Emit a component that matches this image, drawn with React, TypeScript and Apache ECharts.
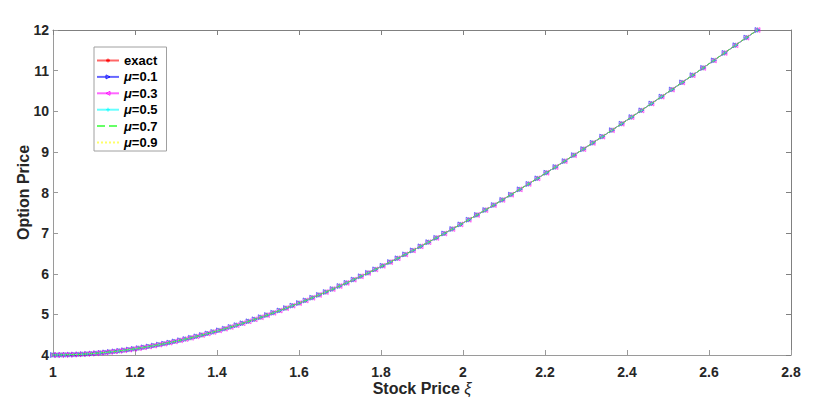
import React, { useEffect, useRef } from "react";
import * as echarts from "echarts";

// Stock price ξ at each plotted marker
const stockPrice = [
  1.0000, 1.0101, 1.0202, 1.0305, 1.0408, 1.0513, 1.0618, 1.0725, 1.0833, 1.0942,
  1.1052, 1.1163, 1.1275, 1.1388, 1.1503, 1.1618, 1.1735, 1.1853, 1.1972, 1.2092,
  1.2214, 1.2337, 1.2461, 1.2586, 1.2712, 1.2840, 1.2969, 1.3100, 1.3231, 1.3364,
  1.3499, 1.3634, 1.3771, 1.3910, 1.4049, 1.4191, 1.4333, 1.4477, 1.4623, 1.4770,
  1.4918, 1.5068, 1.5220, 1.5373, 1.5527, 1.5683, 1.5841, 1.6000, 1.6161, 1.6323,
  1.6487, 1.6653, 1.6820, 1.6989, 1.7160, 1.7333, 1.7507, 1.7683, 1.7860, 1.8040,
  1.8221, 1.8404, 1.8589, 1.8776, 1.8965, 1.9155, 1.9348, 1.9542, 1.9739, 1.9937,
  2.0138, 2.0340, 2.0544, 2.0751, 2.0959, 2.1170, 2.1383, 2.1598, 2.1815, 2.2034,
  2.2255, 2.2479, 2.2705, 2.2933, 2.3164, 2.3396, 2.3632, 2.3869, 2.4109, 2.4351,
  2.4596, 2.4843, 2.5093, 2.5345, 2.5600, 2.5857, 2.6117, 2.6379, 2.6645, 2.6912,
  2.7183,
];

// Option price (all six series coincide in the picture)
const optionPrice = [
  4.000, 4.000, 4.002, 4.004, 4.007, 4.010, 4.015, 4.021, 4.027, 4.035,
  4.043, 4.053, 4.063, 4.075, 4.088, 4.102, 4.117, 4.133, 4.150, 4.168,
  4.188, 4.209, 4.231, 4.255, 4.279, 4.305, 4.333, 4.362, 4.392, 4.424,
  4.458, 4.492, 4.529, 4.567, 4.606, 4.647, 4.690, 4.734, 4.781, 4.829,
  4.878, 4.930, 4.983, 5.039, 5.095, 5.154, 5.215, 5.278, 5.343, 5.410,
  5.479, 5.550, 5.623, 5.698, 5.775, 5.855, 5.937, 6.021, 6.107, 6.196,
  6.287, 6.380, 6.476, 6.574, 6.674, 6.777, 6.883, 6.991, 7.101, 7.214,
  7.330, 7.448, 7.568, 7.691, 7.817, 7.946, 8.077, 8.211, 8.347, 8.486,
  8.627, 8.772, 8.919, 9.068, 9.221, 9.375, 9.533, 9.693, 9.856, 10.021,
  10.190, 10.360, 10.533, 10.709, 10.887, 11.067, 11.251, 11.435, 11.624, 11.813,
  12.000,
];

const seriesNames = ["exact", "μ=0.1", "μ=0.3", "μ=0.5", "μ=0.7", "μ=0.9"];
const seriesColors = ["#ff0000", "#0000ff", "#ff00ff", "#00ffff", "#00ff00", "#ffff00"];

const xTicks = { min: 1, max: 2.8, interval: 0.2 };
const yTicks = { min: 4, max: 12, interval: 1 };

const FONT = "Liberation Sans, Arial, Helvetica, sans-serif";
const AXIS_COLOR = "#9a9a9a";

const ASTERISK = "path://M0,5L10,5M5,0L5,10M1.5,1.5L8.5,8.5M8.5,1.5L1.5,8.5";
const PLUS = "path://M0,5L10,5M5,0L5,10";

export default function App() {
  const ref = useRef<HTMLDivElement>(null);

  useEffect(() => {
    if (!ref.current) return;
    const chart = echarts.init(ref.current, null, { renderer: "svg" });

    const data = stockPrice.map((x, i) => [x, optionPrice[i]]);

    const markerCfg: any[] = [
      { symbol: ASTERISK, symbolSize: 5, symbolRotate: 0, lineType: "solid" },
      { symbol: "triangle", symbolSize: 5, symbolRotate: -90, lineType: "solid" },
      { symbol: "triangle", symbolSize: 5, symbolRotate: 90, lineType: "solid" },
      { symbol: PLUS, symbolSize: 5, symbolRotate: 0, lineType: "solid" },
      { symbol: "none", symbolSize: 0, symbolRotate: 0, lineType: "dashed" },
      { symbol: "none", symbolSize: 0, symbolRotate: 0, lineType: "dotted" },
    ];

    const series = seriesNames.map((name, i) => ({
      name,
      type: "line",
      data,
      xAxisIndex: 0,
      yAxisIndex: 0,
      symbol: markerCfg[i].symbol,
      symbolSize: markerCfg[i].symbolSize,
      symbolRotate: markerCfg[i].symbolRotate,
      showSymbol: markerCfg[i].symbol !== "none",
      lineStyle: {
        color: seriesColors[i],
        width: 1,
        type: markerCfg[i].lineType,
        opacity: 0.6,
      },
      itemStyle: {
        color: "rgba(0,0,0,0)",
        borderColor: seriesColors[i],
        borderWidth: 0.7,
        opacity: 0.75,
      },
      emphasis: { disabled: true },
      z: 2 + i,
    }));

    const legendData = seriesNames.map((name, i) =>
      markerCfg[i].symbol === "none"
        ? { name, itemStyle: { opacity: 0 } }
        : {
            name,
            itemStyle: {
              color: i === 0 ? seriesColors[i] : "rgba(0,0,0,0)",
              borderColor: seriesColors[i],
              borderWidth: 1,
              opacity: 0.8,
            },
          }
    );

    const tickLabel = {
      color: "#262626",
      fontFamily: FONT,
      fontSize: 14,
      fontWeight: "bold" as const,
    };

    const option: any = {
      animation: false,
      backgroundColor: "#ffffff",
      grid: { left: 53, right: 39, top: 30, bottom: 50, containLabel: false },
      xAxis: [
        {
          type: "value",
          position: "bottom",
          min: xTicks.min,
          max: xTicks.max,
          interval: xTicks.interval,
          name: "{b|Stock Price }{i|ξ}",
          nameLocation: "middle",
          nameGap: 25,
          nameMoveOverlap: false,
          nameTextStyle: {
            rich: {
              b: { fontFamily: FONT, fontSize: 16, fontWeight: "bold", color: "#262626" },
              i: { fontFamily: FONT, fontSize: 16, fontStyle: "italic", color: "#262626" },
            },
          },
          axisLine: { show: true, lineStyle: { color: AXIS_COLOR, width: 1 } },
          axisTick: { show: true, inside: true, length: 5, lineStyle: { color: AXIS_COLOR } },
          axisLabel: { ...tickLabel, margin: 10 },
          splitLine: { show: false },
        },
        {
          type: "value",
          position: "top",
          min: xTicks.min,
          max: xTicks.max,
          interval: xTicks.interval,
          axisLine: { show: true, lineStyle: { color: "#808080", width: 1 } },
          axisTick: { show: true, inside: true, length: 5, lineStyle: { color: "#808080" } },
          axisLabel: { show: false },
          splitLine: { show: false },
        },
      ],
      yAxis: [
        {
          type: "value",
          position: "left",
          min: yTicks.min,
          max: yTicks.max,
          interval: yTicks.interval,
          name: "Option Price",
          nameLocation: "middle",
          nameGap: 22,
          nameMoveOverlap: false,
          nameTextStyle: {
            fontFamily: FONT,
            fontSize: 16,
            fontWeight: "bold",
            color: "#262626",
          },
          axisLine: { show: true, lineStyle: { color: AXIS_COLOR, width: 1 } },
          axisTick: { show: true, inside: true, length: 5, lineStyle: { color: AXIS_COLOR } },
          axisLabel: { ...tickLabel, margin: 4 },
          splitLine: { show: false },
        },
        {
          type: "value",
          position: "right",
          min: yTicks.min,
          max: yTicks.max,
          interval: yTicks.interval,
          axisLine: { show: true, lineStyle: { color: "#808080", width: 1 } },
          axisTick: { show: true, inside: true, length: 5, lineStyle: { color: "#808080" } },
          axisLabel: { show: false },
          splitLine: { show: false },
        },
      ],
      legend: {
        data: legendData,
        orient: "vertical",
        left: 94,
        top: 47,
        itemWidth: 22,
        itemHeight: 5,
        itemGap: 3.4,
        padding: [7, 9, 2, 2],
        borderColor: "#a0a0a0",
        borderWidth: 1,
        backgroundColor: "#ffffff",
        selectedMode: false,
        formatter: (name: string) =>
          name === "exact" ? "{b|exact}" : `{i|μ}{b|${name.slice(1)}}`,
        textStyle: {
          rich: {
            b: { fontFamily: FONT, fontSize: 13, fontWeight: "bold", color: "#000", lineHeight: 15 },
            i: { fontFamily: FONT, fontSize: 13, fontStyle: "italic", fontWeight: "bold", color: "#000", lineHeight: 15 },
          },
        },
      },
      series,
    };

    chart.setOption(option);
    return () => chart.dispose();
  }, []);

  return (
    <div
      ref={ref}
      style={{ position: "absolute", left: 0, top: 0, width: 830, height: 405 }}
    />
  );
}
